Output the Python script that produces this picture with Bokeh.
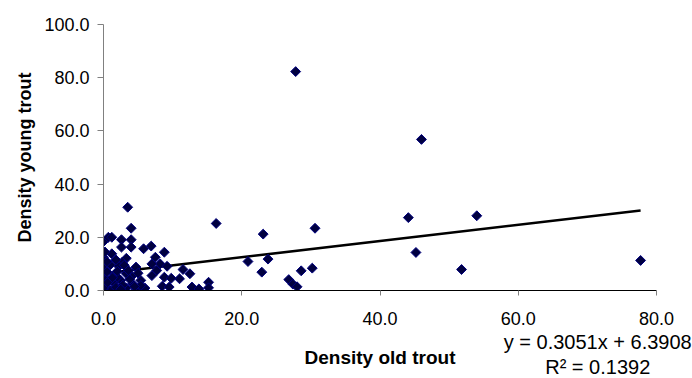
from bokeh.plotting import figure
from bokeh.models import Range1d, FixedTicker, NumeralTickFormatter, LinearAxis
from bokeh.embed import file_html
from bokeh.resources import INLINE

# Densities of old (x) and young (y) trout per site
old_density = [
    27.8, 46.0, 44.1, 54.0, 45.2, 51.8, 77.7,
    16.3, 23.1, 30.6, 20.9, 23.8, 22.9, 26.8, 27.4, 28.0, 28.6, 30.2, 15.2, 15.2,
    6.9, 7.5, 8.8, 8.2, 9.2, 7.7, 7.0, 11.5, 12.5, 11.0, 8.8, 9.8, 8.5, 9.5, 12.8, 13.8,
    3.5, 4.0, 0.0, 0.7, 1.2, 2.6, 4.0, 2.6, 4.0, 5.8, 0.0, 1.2, 3.3, 2.7, 1.0, 0.0,
    2.2, 4.7, 7.0, 4.1, 3.3, 5.4, 0.0, 0.0, 0.8, 1.5, 2.5, 0.3, 1.0, 3.3, 4.2, 5.1, 6.0,
    0.0, 0.3, 4.6, 5.4, 0.5, 1.6, 2.0, 0.2, 1.8, 2.8, 3.8, 5.0, 0.5, 1.8, 0.2, 2.0,
    3.0, 4.5, 0.6, 1.3, 2.5, 3.6,
]
young_density = [
    82.3, 56.8, 27.4, 28.1, 14.3, 7.9, 11.3,
    25.2, 21.2, 23.4, 10.9, 11.8, 6.9, 4.1, 2.4, 1.4, 7.4, 8.4, 3.1, 1.0,
    16.7, 12.5, 14.4, 10.0, 9.1, 7.5, 5.6, 7.9, 6.3, 4.4, 5.0, 4.6, 1.6, 1.3, 1.3, 0.6,
    31.3, 23.4, 18.4, 20.0, 20.0, 19.1, 19.1, 16.3, 16.3, 15.7, 12.5, 13.8, 12.1, 10.6, 9.7, 8.4,
    9.1, 8.8, 10.0, 5.4, 6.3, 3.8, 5.0, 2.5, 3.8, 2.9, 3.8, 0.6, 0.0, 0.9, 2.5, 0.0, 0.9,
    0.6, 4.0, 0.0, 1.9, 7.0, 6.0, 5.0, 1.5, 1.2, 2.0, 4.2, 6.5, 10.8, 11.5, 14.5, 7.2,
    9.5, 1.5, 3.0, 4.8, 0.5, 7.5,
]

# Linear trend line fitted to the data
slope = 0.3051
intercept = 6.3908
r_squared = 0.1392

x_ticks = [0, 20, 40, 60, 80]
y_ticks = [0, 20, 40, 60, 80, 100]

FONT = "Liberation Sans"

p = figure(
    width=692, height=378,
    x_range=Range1d(0, 80), y_range=Range1d(0, 100),
    output_backend="svg", toolbar_location=None,
    min_border_left=103, min_border_right=36,
    min_border_top=24, min_border_bottom=88,
    background_fill_color="white", border_fill_color="white",
)
p.outline_line_color = None
p.grid.visible = False

# main axes
p.xaxis.ticker = FixedTicker(ticks=x_ticks)
p.yaxis.ticker = FixedTicker(ticks=y_ticks)
p.xaxis.formatter = NumeralTickFormatter(format="0.0")
p.yaxis.formatter = NumeralTickFormatter(format="0.0")
for ax in (p.xaxis, p.yaxis):
    ax.major_label_text_font = FONT
    ax.major_label_text_font_size = "18px"
    ax.major_label_text_color = "black"
    ax.axis_label_text_font = FONT
    ax.axis_label_text_font_style = "bold"
    ax.axis_label_text_color = "black"
    ax.minor_tick_line_color = None
    ax.major_tick_in = 0
    ax.major_tick_line_color = "#808080"

p.yaxis.axis_label = "Density young trout"
p.yaxis.axis_label_text_font_size = "18px"
p.xaxis.axis_line_color = "black"
p.yaxis.axis_line_color = "#808080"
p.xaxis.major_tick_out = 5
p.yaxis.major_tick_out = 6
p.xaxis.major_label_standoff = 16
p.yaxis.major_label_standoff = 8
p.yaxis.axis_label_standoff = 6

# second, line-less axis below carrying the trend equation and the x title
eq_pos = 71.5
eq_text = f"y = {slope:.4f}x + {intercept:.4f}\nR² = {r_squared:.4f}"
eq_axis = LinearAxis(
    ticker=FixedTicker(ticks=[eq_pos]),
    major_label_overrides={eq_pos: eq_text},
    axis_line_color=None, major_tick_line_color=None, minor_tick_line_color=None,
    major_tick_in=0, major_tick_out=0, major_label_standoff=3,
    major_label_text_font=FONT, major_label_text_font_size="20px",
    major_label_text_color="black", major_label_text_line_height=1.15,
    axis_label="Density old trout", axis_label_text_font=FONT,
    axis_label_text_font_size="19px", axis_label_text_font_style="bold",
    axis_label_text_color="black", axis_label_standoff=-34,
)
p.add_layout(eq_axis, "below")

# trend line over the range of the data
x0, x1 = 0.0, max(old_density)
p.line([x0, x1], [intercept + slope * x0, intercept + slope * x1],
       line_color="black", line_width=2.5)

# observations
p.scatter(old_density, young_density, marker="square", angle=0.785398,
          size=7, fill_color="#000040", line_color="#000080", line_width=1)

open("out.html", "w").write(file_html(p, INLINE))
